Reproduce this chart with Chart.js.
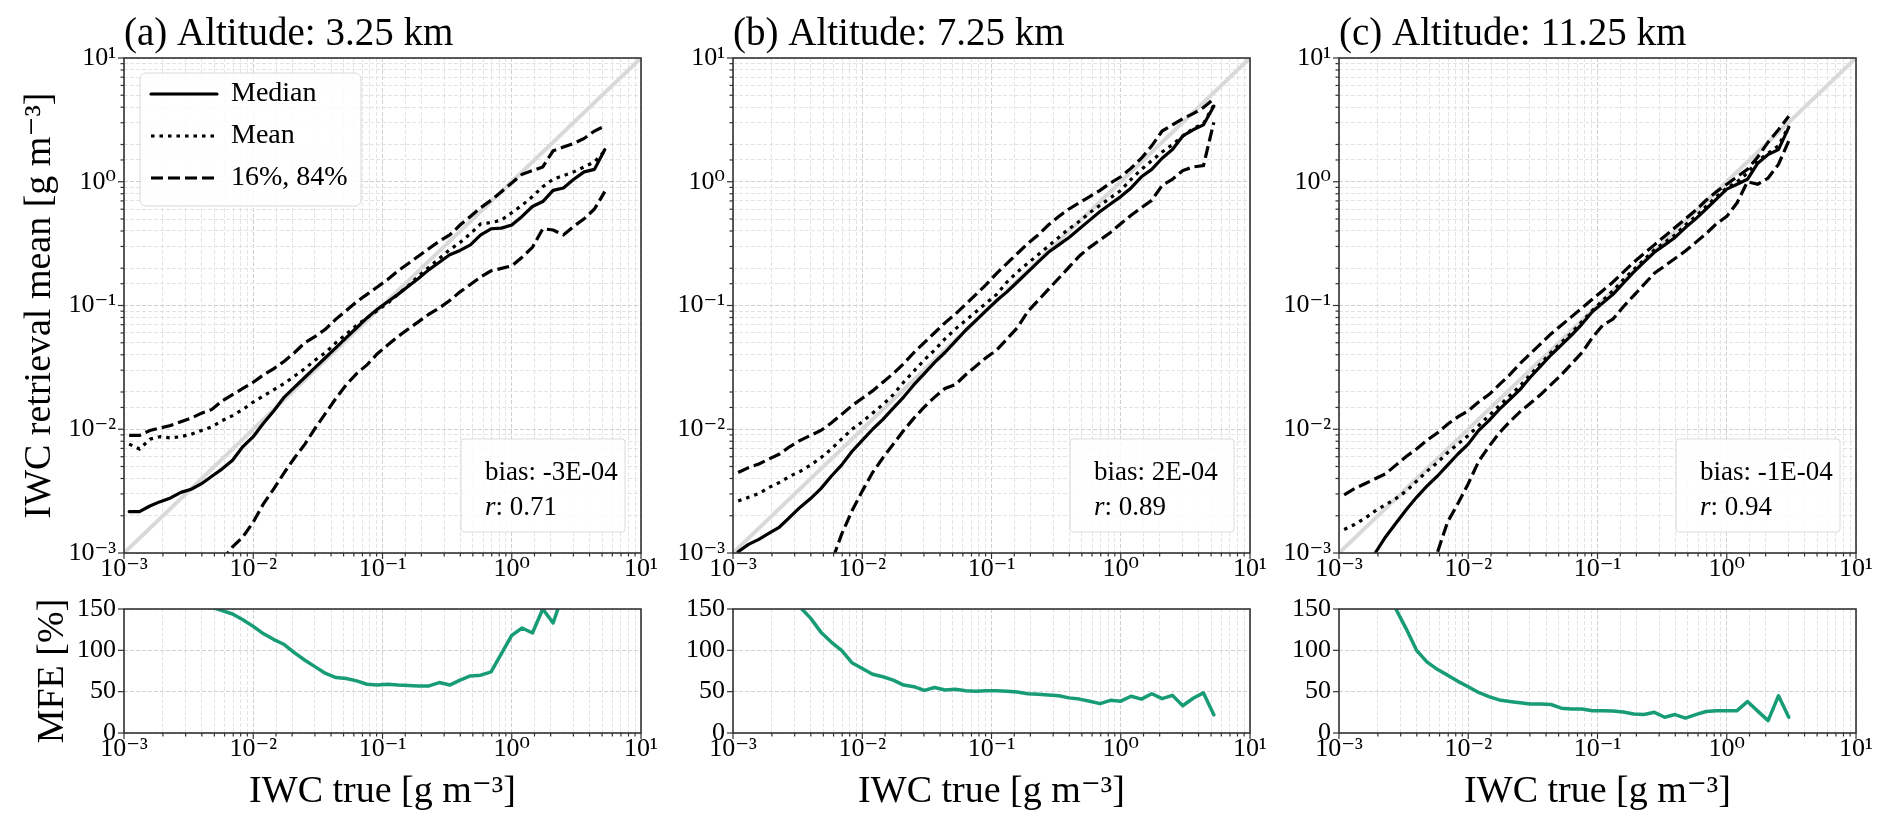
<!DOCTYPE html>
<html>
<head>
<meta charset="utf-8">
<title>IWC retrieval vs truth</title>
<script src="https://cdn.jsdelivr.net/npm/chart.js@4.4.1/dist/chart.umd.min.js"></script>
<style>
  html, body { margin: 0; padding: 0; background: #fff; }
  #page { position: relative; width: 1892px; height: 831px; overflow: hidden; }
  #page canvas { position: absolute; }
</style>
</head>
<body>
<div id="page"></div>
<script>
// bin centres of IWC true, as log10(g m^-3)
var binLog10 = [-2.96, -2.88, -2.80, -2.72, -2.64, -2.56, -2.48, -2.40, -2.32, -2.24,
                -2.16, -2.08, -2.00, -1.92, -1.84, -1.76, -1.68, -1.60, -1.52, -1.44,
                -1.36, -1.28, -1.20, -1.12, -1.04, -0.96, -0.88, -0.80, -0.72, -0.64,
                -0.56, -0.48, -0.40, -0.32, -0.24, -0.16, -0.08, 0.00, 0.08, 0.16,
                0.24, 0.32, 0.40, 0.48, 0.56, 0.64, 0.72];

// retrieved IWC per bin, log10(g m^-3) (null = no data)
var medianA = [-2.665, -2.665, -2.62, -2.585, -2.555, -2.51, -2.485, -2.44, -2.38, -2.32,
               -2.25, -2.14, -2.06, -1.95, -1.85, -1.74, -1.66, -1.58, -1.50, -1.42,
               -1.34, -1.26, -1.18, -1.10, -1.03, -0.97, -0.91, -0.845, -0.78, -0.71,
               -0.65, -0.59, -0.555, -0.51, -0.43, -0.38, -0.375, -0.35, -0.28, -0.20,
               -0.16, -0.07, -0.05, 0.02, 0.08, 0.10, 0.26];
var meanA = [-2.12, -2.16, -2.08, -2.06, -2.07, -2.06, -2.04, -2.01, -1.98, -1.93,
             -1.89, -1.84, -1.78, -1.73, -1.68, -1.63, -1.57, -1.51, -1.44, -1.38,
             -1.30, -1.23, -1.16, -1.10, -1.04, -0.98, -0.91, -0.84, -0.76, -0.69,
             -0.62, -0.55, -0.49, -0.42, -0.34, -0.33, -0.31, -0.25, -0.19, -0.12,
             -0.04, 0.02, 0.05, 0.08, 0.12, 0.16, 0.25];
var upperA = [-2.05, -2.05, -2.01, -1.99, -1.97, -1.94, -1.91, -1.87, -1.84, -1.77,
              -1.72, -1.67, -1.62, -1.56, -1.51, -1.45, -1.38, -1.30, -1.25, -1.19,
              -1.11, -1.04, -0.97, -0.91, -0.85, -0.79, -0.72, -0.66, -0.60, -0.54,
              -0.48, -0.43, -0.35, -0.28, -0.21, -0.15, -0.08, -0.01, 0.06, 0.09,
              0.12, 0.25, 0.28, 0.31, 0.35, 0.41, 0.45];
var lowerA = [null, null, null, null, null, null, null, null, -3.18, -3.06,
              -2.95, -2.87, -2.75, -2.60, -2.48, -2.35, -2.23, -2.12, -1.99, -1.87,
              -1.75, -1.64, -1.55, -1.48, -1.39, -1.32, -1.25, -1.19, -1.13, -1.07,
              -1.02, -0.96, -0.89, -0.83, -0.77, -0.72, -0.70, -0.68, -0.61, -0.53,
              -0.38, -0.39, -0.43, -0.36, -0.30, -0.22, -0.08];

var medianB = [-2.99, -2.93, -2.89, -2.84, -2.79, -2.71, -2.63, -2.56, -2.48, -2.38,
               -2.29, -2.18, -2.09, -2.00, -1.92, -1.83, -1.74, -1.64, -1.55, -1.46,
               -1.38, -1.29, -1.20, -1.12, -1.04, -0.96, -0.89, -0.81, -0.73, -0.65,
               -0.57, -0.51, -0.45, -0.38, -0.31, -0.24, -0.18, -0.12, -0.05, 0.04,
               0.10, 0.19, 0.26, 0.37, 0.42, 0.46, 0.61];
var meanB = [-2.58, -2.55, -2.52, -2.47, -2.43, -2.38, -2.34, -2.29, -2.23, -2.16,
             -2.08, -2.00, -1.94, -1.87, -1.80, -1.72, -1.62, -1.53, -1.44, -1.36,
             -1.27, -1.19, -1.12, -1.05, -0.98, -0.91, -0.81, -0.73, -0.66, -0.59,
             -0.52, -0.45, -0.38, -0.32, -0.25, -0.19, -0.13, -0.07, 0.02, 0.10,
             0.17, 0.24, 0.30, 0.37, 0.43, 0.47, 0.62];
var upperB = [-2.35, -2.31, -2.28, -2.24, -2.20, -2.14, -2.09, -2.05, -2.01, -1.95,
              -1.88, -1.81, -1.75, -1.69, -1.62, -1.55, -1.47, -1.38, -1.30, -1.22,
              -1.14, -1.07, -0.99, -0.91, -0.83, -0.74, -0.66, -0.58, -0.50, -0.43,
              -0.35, -0.28, -0.22, -0.17, -0.12, -0.07, -0.01, 0.04, 0.11, 0.19,
              0.29, 0.41, 0.46, 0.51, 0.55, 0.60, 0.67];
var lowerB = [null, null, null, null, null, null, null, null, -3.30, -3.08,
              -2.85, -2.66, -2.50, -2.35, -2.23, -2.12, -2.01, -1.91, -1.82, -1.74,
              -1.67, -1.64, -1.56, -1.49, -1.42, -1.36, -1.27, -1.18, -1.05, -0.96,
              -0.87, -0.78, -0.69, -0.60, -0.53, -0.47, -0.41, -0.34, -0.27, -0.21,
              -0.15, -0.03, 0.02, 0.09, 0.12, 0.13, 0.48];

var medianC = [null, null, -3.13, -3.00, -2.87, -2.76, -2.65, -2.55, -2.46, -2.38,
               -2.29, -2.20, -2.12, -2.01, -1.93, -1.84, -1.76, -1.68, -1.58, -1.49,
               -1.40, -1.32, -1.24, -1.15, -1.05, -0.98, -0.91, -0.82, -0.73, -0.65,
               -0.57, -0.51, -0.45, -0.37, -0.30, -0.22, -0.14, -0.06, -0.02, 0.02,
               0.15, 0.22, 0.26, 0.44, null, null, null];
var meanC = [-2.81, -2.77, -2.72, -2.66, -2.61, -2.56, -2.50, -2.42, -2.34, -2.27,
             -2.19, -2.12, -2.05, -1.97, -1.89, -1.81, -1.73, -1.65, -1.56, -1.47,
             -1.38, -1.30, -1.22, -1.13, -1.04, -0.96, -0.88, -0.79, -0.71, -0.63,
             -0.55, -0.49, -0.43, -0.35, -0.28, -0.20, -0.12, -0.05, 0.00, 0.07,
             0.17, 0.23, 0.29, 0.45, null, null, null];
var upperC = [-2.53, -2.48, -2.44, -2.40, -2.36, -2.29, -2.22, -2.16, -2.09, -2.03,
              -1.96, -1.90, -1.85, -1.78, -1.72, -1.64, -1.56, -1.47, -1.39, -1.31,
              -1.23, -1.16, -1.09, -1.02, -0.95, -0.88, -0.81, -0.73, -0.65, -0.58,
              -0.51, -0.44, -0.37, -0.30, -0.23, -0.15, -0.08, -0.02, 0.04, 0.10,
              0.20, 0.32, 0.42, 0.53, null, null, null];
var lowerC = [null, null, null, null, null, null, null, null, -3.25, -3.00,
              -2.75, -2.60, -2.44, -2.26, -2.14, -2.03, -1.94, -1.86, -1.79, -1.72,
              -1.64, -1.56, -1.47, -1.38, -1.26, -1.16, -1.11, -1.01, -0.92, -0.83,
              -0.74, -0.68, -0.62, -0.56, -0.49, -0.42, -0.34, -0.28, -0.17, 0.00,
              -0.02, 0.03, 0.14, 0.33, null, null, null];

// mean fractional error per bin, %
var mfeA = [null, null, null, null, null, null, null, 160, 152, 148,
            144, 137, 129, 120, 113, 107, 97, 88, 80, 72,
            67, 66, 63, 59, 58, 59, 58, 57.5, 57, 57,
            61, 58, 64, 69, 70, 74, 96, 118, 127, 121,
            150, 133, 170, null, null, null, null];
var mfeB = [null, null, null, null, null, 165, 152, 139, 122, 110,
            100, 85, 78, 71, 68, 64, 58, 56, 51.5, 55,
            52, 53, 51, 50.5, 51, 51, 50.5, 49.5, 47.5, 47,
            46, 45, 42.5, 41, 38.5, 35.5, 39.5, 38.5, 44.5, 41,
            47.5, 41.5, 45.5, 33, 42, 48.5, 22];
var mfeC = [null, null, null, 190, 172, 150, 126, 100, 86, 77,
            70, 62.5, 56, 49, 44, 40, 38, 36.5, 35, 35,
            34.5, 30, 29, 29, 27, 27, 26.5, 25.5, 23, 22.3,
            25, 19, 22.3, 18, 22.3, 26, 27, 27, 27, 38,
            26.5, 15, 45, 19, null, null, null];

var panelTitles = ['(a) Altitude: 3.25 km', '(b) Altitude: 7.25 km', '(c) Altitude: 11.25 km'];
var biasText = ['-3E-04', '2E-04', '-1E-04'];
var rText = ['0.71', '0.89', '0.94'];
var iwcTickLabels = ['10\u207B\u00B3', '10\u207B\u00B2', '10\u207B\u00B9', '10\u2070', '10\u00B9'];
var mfeTicks = [0, 50, 100, 150];

var panels = [
  { median: medianA, mean: meanA, upper: upperA, lower: lowerA, mfe: mfeA },
  { median: medianB, mean: meanB, upper: upperB, lower: lowerB, mfe: mfeB },
  { median: medianC, mean: meanC, upper: upperC, lower: lowerC, mfe: mfeC }
];

var FONT = "'Liberation Serif', 'DejaVu Serif', serif";
Chart.defaults.font.family = FONT;
Chart.defaults.color = '#000';

var axesLeft = [124, 733, 1339];
var PLOT_W = 517, AXIS_W = 124, RIGHT_PAD = 24;
var GREEN = '#179c76';

function isDecade(v) {
  var e = Math.log10(v);
  return Math.abs(e - Math.round(e)) < 1e-6;
}

function decadeLabel(v) {
  if (!isDecade(v)) return '';
  var i = Math.round(Math.log10(v)) + 3;
  return iwcTickLabels[i] || '';
}

function logPoints(ys) {
  var pts = [];
  binLog10.forEach(function (lx, k) {
    if (ys[k] !== null) pts.push({ x: Math.pow(10, lx), y: Math.pow(10, ys[k]) });
  });
  return pts;
}

function linPoints(ys) {
  var pts = [];
  binLog10.forEach(function (lx, k) {
    if (ys[k] !== null) pts.push({ x: Math.pow(10, lx), y: ys[k] });
  });
  return pts;
}

function gridColor(ctx) {
  if (ctx.scale.type !== 'logarithmic') return '#d2d2d2';
  return isDecade(ctx.tick.value) ? '#cfcfcf' : '#e4e4e4';
}

function boxPath(ctx, x, y, w, h, r) {
  ctx.beginPath();
  ctx.moveTo(x + r, y);
  ctx.lineTo(x + w - r, y);
  ctx.arcTo(x + w, y, x + w, y + r, r);
  ctx.lineTo(x + w, y + h - r);
  ctx.arcTo(x + w, y + h, x + w - r, y + h, r);
  ctx.lineTo(x + r, y + h);
  ctx.arcTo(x, y + h, x, y + h - r, r);
  ctx.lineTo(x, y + r);
  ctx.arcTo(x, y, x + r, y, r);
  ctx.closePath();
}

// legend entries drawn as line samples carrying each dataset's dash
function lineLegendItems(chart) {
  return chart.data.datasets.slice(0, 3).map(function (ds, k) {
    return {
      text: ds.label,
      fillStyle: ds.borderColor,
      strokeStyle: ds.borderColor,
      fontColor: '#000',
      lineWidth: ds.borderWidth,
      lineDash: ds.borderDash || [],
      lineCap: ds.borderCapStyle || 'butt',
      pointStyle: 'line',
      hidden: false,
      datasetIndex: k
    };
  });
}

// frame, outward tick marks, legend frame and the bias / r box
var panelDecor = {
  id: 'panelDecor',
  afterLayout: function (chart, args, opts) {
    if (opts.legendShift && chart.legend) {
      var a = chart.chartArea, lg = chart.legend;
      lg.left = a.left + opts.legendShift[0];
      lg.top = a.top + opts.legendShift[1];
      lg.right = a.right;
      lg.bottom = a.bottom;
    }
  },
  afterDatasetsDraw: function (chart, args, opts) {
    var ctx = chart.ctx, a = chart.chartArea;
    ctx.save();
    if (opts.legendFrame) {
      boxPath(ctx, a.left + 16, a.top + 15, 221, 133, 6);
      ctx.fillStyle = 'rgba(255,255,255,0.85)';
      ctx.fill();
      ctx.strokeStyle = '#d8d8d8';
      ctx.lineWidth = 1;
      ctx.stroke();
      chart.legend.draw();
    }
    if (opts.stats) {
      var bw = 164, bh = 93;
      var bx = a.right - 16 - bw, by = a.bottom - 21 - bh;
      boxPath(ctx, bx, by, bw, bh, 3);
      ctx.fillStyle = 'rgba(255,255,255,0.85)';
      ctx.fill();
      ctx.strokeStyle = '#dcdcdc';
      ctx.lineWidth = 1;
      ctx.stroke();
      ctx.fillStyle = '#000';
      ctx.textBaseline = 'middle';
      ctx.textAlign = 'left';
      ctx.font = '27px ' + FONT;
      ctx.fillText('bias: ' + opts.stats.bias, bx + 24, a.bottom - 80);
      ctx.font = 'italic 27px ' + FONT;
      ctx.fillText('r', bx + 24, a.bottom - 45);
      var rw = ctx.measureText('r').width;
      ctx.font = '27px ' + FONT;
      ctx.fillText(': ' + opts.stats.r, bx + 24 + rw, a.bottom - 45);
    }
    ctx.strokeStyle = '#333';
    ctx.lineWidth = 1.6;
    ctx.strokeRect(a.left, a.top, a.right - a.left, a.bottom - a.top);
    ctx.restore();
  },
  afterDraw: function (chart) {
    var ctx = chart.ctx, a = chart.chartArea;
    var xs = chart.scales.x, ys = chart.scales.y;
    ctx.save();
    ctx.strokeStyle = '#333';
    ctx.lineWidth = 1.2;
    xs.ticks.forEach(function (t) {
      var px = xs.getPixelForValue(t.value);
      var len = isDecade(t.value) ? 6 : 3.5;
      ctx.beginPath();
      ctx.moveTo(px, a.bottom);
      ctx.lineTo(px, a.bottom + len);
      ctx.stroke();
    });
    ys.ticks.forEach(function (t) {
      var py = ys.getPixelForValue(t.value);
      var len = (ys.type !== 'logarithmic' || isDecade(t.value)) ? 6 : 3.5;
      ctx.beginPath();
      ctx.moveTo(a.left - len, py);
      ctx.lineTo(a.left, py);
      ctx.stroke();
    });
    ctx.restore();
  }
};

var page = document.getElementById('page');

function makeCanvas(left, top, w, h) {
  var c = document.createElement('canvas');
  c.width = w;
  c.height = h;
  c.style.left = left + 'px';
  c.style.top = top + 'px';
  c.style.width = w + 'px';
  c.style.height = h + 'px';
  page.appendChild(c);
  return c.getContext('2d');
}

function xAxis(height, withTitle) {
  return {
    type: 'logarithmic',
    min: 1e-3,
    max: 10,
    grid: { color: gridColor, lineWidth: 1, drawTicks: false, borderDash: [4, 2] },
    border: { display: false, dash: [4, 2] },
    ticks: { autoSkip: false, maxRotation: 0, padding: 1, font: { size: 26 }, callback: decadeLabel },
    title: {
      display: withTitle,
      text: 'IWC true [g m\u207B\u00B3]',
      font: { size: 38 },
      padding: { top: 0, bottom: 16 }
    },
    afterFit: function (s) {
      s.height = height;
      s.paddingLeft = 0;
      s.paddingRight = 0;
    }
  };
}

function fixWidth(s) {
  s.width = AXIS_W;
  s.paddingTop = 0;
  s.paddingBottom = 0;
}

panels.forEach(function (p, i) {
  var canvasLeft = axesLeft[i] - AXIS_W;
  var canvasW = AXIS_W + PLOT_W + RIGHT_PAD;

  // upper panel: retrieval against truth
  new Chart(makeCanvas(canvasLeft, 0, canvasW, 598), {
    type: 'line',
    data: {
      datasets: [
        { label: 'Median', data: logPoints(p.median), borderColor: '#000', borderWidth: 3.2,
          borderCapStyle: 'round', borderJoinStyle: 'round' },
        { label: 'Mean', data: logPoints(p.mean), borderColor: '#000', borderWidth: 3.2,
          borderDash: [3.5, 5], borderCapStyle: 'butt' },
        { label: '16%, 84%', data: logPoints(p.upper), borderColor: '#000', borderWidth: 3.2,
          borderDash: [12, 5], borderCapStyle: 'butt' },
        { label: '16%', data: logPoints(p.lower), borderColor: '#000', borderWidth: 3.2,
          borderDash: [12, 5], borderCapStyle: 'butt' },
        { label: '1:1', data: [{ x: 1e-3, y: 1e-3 }, { x: 10, y: 10 }], borderColor: '#d9d9d9',
          borderWidth: 4 }
      ]
    },
    options: {
      responsive: false,
      animation: false,
      elements: { point: { radius: 0, hoverRadius: 0 }, line: { tension: 0 } },
      layout: { padding: { top: 11.2, right: RIGHT_PAD, left: 0, bottom: 0 } },
      events: [],
      scales: {
        x: xAxis(45, false),
        y: {
          type: 'logarithmic',
          min: 1e-3,
          max: 10,
          grid: { color: gridColor, lineWidth: 1, drawTicks: false, borderDash: [4, 2] },
          border: { display: false, dash: [4, 2] },
          ticks: { autoSkip: false, padding: 8, font: { size: 26 }, callback: decadeLabel },
          title: {
            display: i === 0,
            text: 'IWC retrieval mean [g m\u207B\u00B3]',
            font: { size: 38 },
            padding: { top: 17, bottom: 0 }
          },
          afterFit: fixWidth
        }
      },
      plugins: {
        title: {
          display: true,
          text: panelTitles[i],
          align: 'start',
          fullSize: false,
          color: '#000',
          font: { size: 39, weight: 'normal' },
          padding: { top: 0, bottom: 0 }
        },
        legend: {
          display: i === 0,
          position: 'chartArea',
          align: 'start',
          labels: {
            usePointStyle: true,
            pointStyle: 'line',
            pointStyleWidth: 66,
            padding: 14,
            color: '#000',
            font: { size: 28 },
            generateLabels: lineLegendItems
          }
        },
        tooltip: { enabled: false },
        panelDecor: {
          legendShift: i === 0 ? [13, 8] : null,
          legendFrame: i === 0,
          stats: { bias: biasText[i], r: rText[i] }
        }
      }
    },
    plugins: [panelDecor]
  });

  // lower panel: mean fractional error
  new Chart(makeCanvas(canvasLeft, 594, canvasW, 237), {
    type: 'line',
    data: {
      datasets: [
        { label: 'MFE', data: linPoints(p.mfe), borderColor: GREEN, borderWidth: 3.5,
          borderJoinStyle: 'round', borderCapStyle: 'round' }
      ]
    },
    options: {
      responsive: false,
      animation: false,
      elements: { point: { radius: 0, hoverRadius: 0 }, line: { tension: 0 } },
      layout: { padding: { top: 15, right: RIGHT_PAD, left: 0, bottom: 0 } },
      events: [],
      scales: {
        x: xAxis(98, true),
        y: {
          type: 'linear',
          min: mfeTicks[0],
          max: mfeTicks[mfeTicks.length - 1],
          grid: { color: gridColor, lineWidth: 1, drawTicks: false, borderDash: [4, 2] },
          border: { display: false, dash: [4, 2] },
          ticks: { stepSize: 50, autoSkip: false, padding: 8, font: { size: 26 } },
          title: {
            display: i === 0,
            text: 'MFE [%]',
            font: { size: 38 },
            padding: { top: 30, bottom: 0 }
          },
          afterFit: fixWidth
        }
      },
      plugins: {
        legend: { display: false },
        tooltip: { enabled: false },
        panelDecor: {}
      }
    },
    plugins: [panelDecor]
  });
});
</script>
</body>
</html>
